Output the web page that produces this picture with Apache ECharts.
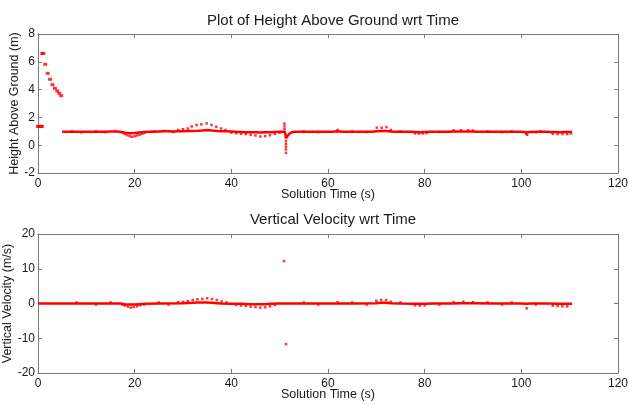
<!DOCTYPE html>
<html><head><meta charset="utf-8">
<script src="https://cdn.jsdelivr.net/npm/echarts@6/dist/echarts.min.js"></script>
<style>html,body{margin:0;padding:0;background:#fff}#c{width:629px;height:405px}</style>
</head><body><div id="c"></div>
<script>
// ---------- data ----------
const xTicks = [0, 20, 40, 60, 80, 100, 120];
const heightTicks = [-2, 0, 2, 4, 6, 8];
const velTicks = [-20, -10, 0, 10, 20];

// initial descent points (t, h)
const heightStartT = [0, 0.2, 0.4, 0.6, 0.8, 0.9, 1.1, 1.5, 2.0, 2.5, 3.0, 3.5, 4.0, 4.4, 4.8];
const heightStartV = [1.35, 1.35, 1.35, 1.35, 1.35, 6.6, 6.6, 5.82, 5.17, 4.74, 4.35, 4.09, 3.9, 3.73, 3.56];

// main height trace
const heightLineT = [5,6,7,8,9,10,11,12,13,14,15,16,17,18,19,20,21,22,23,24,25,26,27,28,29,30,31,32,33,34,35,36,37,38,39,40,41,42,43,44,45,46,47,48,49,50,51.1,51.3,51.6,52,52.5,53,54,55,56,57,58,59,60,61,62,63,64,65,66,67,68,69,70,71,72,73,74,75,76,77,78,79,80,81,82,83,84,85,86,87,88,89,90,91,92,93,94,95,96,97,98,99,100,101,102,103,104,105,106,107,108,109,110,110.5];
const heightLineV = [0.97,0.97,0.96,0.97,0.96,0.97,0.97,0.96,0.97,0.97,0.98,0.99,0.97,0.9,0.86,0.88,0.92,0.95,0.96,0.97,0.99,1.0,1.0,0.99,1.0,1.01,1.02,1.03,1.04,1.06,1.1,1.06,1.03,1.01,1.0,0.98,0.96,0.95,0.94,0.94,0.93,0.92,0.93,0.94,0.95,0.96,0.97,0.5,0.65,0.82,0.93,0.96,0.97,0.97,0.97,0.97,0.96,0.97,0.97,0.97,1.0,0.97,0.97,0.97,0.97,0.96,0.97,0.97,1.0,1.02,1.02,0.99,0.97,0.97,0.97,0.96,0.95,0.94,0.95,0.96,0.97,0.96,0.97,0.97,0.98,0.99,0.99,0.99,0.98,0.97,0.97,0.97,0.97,0.97,0.96,0.97,0.97,0.97,0.97,0.93,0.95,0.96,0.97,0.97,0.95,0.95,0.94,0.95,0.95,0.96];

// scattered height samples
const heightDotsT = [17.5,18,18.5,19,19.5,20,20.5,21,21.5,22, 29,30,31,31.8,32.8,33.8,34.9,35.9,36.9,37.9,38.8, 40,41,42,43,44,45,46,47,48,49,50, 51,51,51,51.3,51.3,51.3,51.3,51.3, 62,70.1,71.1,72.1,73, 78,78.8,79.6,80.4, 86,87.5,89,90, 101,101.2, 106.5,107.5,108.5,109.5,110.3, 7,9,12,14,16,24,26,28,55,58,65,68,75,83,93,96,98,103,104];
const heightDotsV = [0.9,0.8,0.72,0.65,0.6,0.65,0.7,0.75,0.82,0.88, 1.1,1.15,1.2,1.35,1.45,1.5,1.57,1.45,1.33,1.2,1.1, 0.9,0.86,0.83,0.8,0.75,0.7,0.62,0.65,0.72,0.82,0.9, 1.55,1.35,1.15,0.3,0.1,-0.1,-0.3,-0.55, 1.1,1.26,1.26,1.3,1.1, 0.85,0.83,0.85,0.87, 1.07,1.08,1.08,1.05, 0.82,0.75, 0.82,0.8,0.8,0.8,0.85, 1.0,0.93,1.0,0.94,1.02,1.0,1.03,0.95,1.0,0.94,1.0,0.95,1.0,0.95,1.0,0.94,1.0,0.93,1.0];

// main velocity trace
const velLineT = [0,5,10,15,17,18,19,20,21,22,25,30,32,33,34,35,36,37,38,40,42,44,45,46,47,48,50,51,52,55,60,65,70,71,72,73,75,78,79,80,82,85,88,90,95,100,101,102,105,108,110,110.5];
const velLineV = [0,0,0,0,0,-0.2,-0.3,-0.3,-0.2,-0.1,0,0.1,0.2,0.3,0.3,0.3,0.2,0.1,0,-0.1,-0.1,-0.2,-0.2,-0.2,-0.2,-0.1,0,0,0,0,0,0,0.1,0.2,0.2,0.1,0,-0.1,-0.1,-0.1,0,0,0.1,0.1,0,0,-0.1,0,0,-0.1,-0.1,-0.1];

// scattered velocity samples
const velDotsT = [17.5,18,18.6,19.2,19.8,20.5,21.2,22, 29,30,31,32,33,34,35,36,37,38,39, 41,42,43,44,45,46,47,48,49, 50.9,51.3, 70,71,72,73, 78,79,80, 86,88,90, 101.1, 106.5,107.5,108.5,109.5, 8,12,15,25,27,55,58,62,65,68,75,83,93,96,98,103];
const velDotsV = [-0.3,-0.6,-0.9,-1.2,-1.0,-0.8,-0.5,-0.3, 0.4,0.5,0.7,1.0,1.2,1.3,1.5,1.3,1.0,0.6,0.3, -0.4,-0.6,-0.7,-0.9,-1.0,-1.2,-1.1,-0.8,-0.4, 12.2,-11.7, 0.8,1.0,1.0,0.5, -0.5,-0.6,-0.5, 0.4,0.5,0.4, -1.4, -0.6,-0.7,-0.8,-0.8, 0.3,-0.3,0.3,0.3,-0.3,0.3,-0.3,0.4,0.3,-0.3,0.3,-0.3,0.3,-0.3,0.3,-0.3];

// ---------- chart ----------
const zip = (a, b) => a.map((t, i) => [t, b[i]]);
const RED = '#ff0000';
const AX = '#7a7a7a';
const TXT = '#1a1a1a';
const FONT = 'Liberation Sans, Arial, sans-serif';

function xAxes(gi) {
  const base = {
    type: 'value', gridIndex: gi, min: xTicks[0], max: xTicks[xTicks.length - 1],
    interval: xTicks[1] - xTicks[0], splitLine: { show: false },
    axisLine: { show: true, onZero: false, lineStyle: { color: AX, width: 1 } },
    axisTick: { show: true, inside: true, length: 4, lineStyle: { color: AX } }
  };
  return [
    Object.assign({}, base, {
      position: 'bottom', name: 'Solution Time (s)', nameLocation: 'middle', nameGap: 15,
      nameMoveOverlap: false,
      nameTextStyle: { color: TXT, fontSize: 12.5, fontFamily: FONT },
      axisLabel: { color: TXT, fontSize: 12, fontFamily: FONT, margin: 5 }
    }),
    Object.assign({}, base, { position: 'top', axisLabel: { show: false } })
  ];
}
function yAxes(gi, ticks, name, gap) {
  const base = {
    type: 'value', gridIndex: gi, min: ticks[0], max: ticks[ticks.length - 1],
    interval: ticks[1] - ticks[0], splitLine: { show: false },
    axisLine: { show: true, onZero: false, lineStyle: { color: AX, width: 1 } },
    axisTick: { show: true, inside: true, length: 4, lineStyle: { color: AX } }
  };
  return [
    Object.assign({}, base, {
      position: 'left', name: name, nameLocation: 'middle', nameGap: gap,
      nameMoveOverlap: false,
      nameTextStyle: { color: TXT, fontSize: 12.5, fontFamily: FONT },
      axisLabel: { color: TXT, fontSize: 12, fontFamily: FONT, margin: 3 }
    }),
    Object.assign({}, base, { position: 'right', axisLabel: { show: false } })
  ];
}

const chart = echarts.init(document.getElementById('c'), null, { renderer: 'canvas' });
const xs = xAxes(0).concat(xAxes(1));
const ys = yAxes(0, heightTicks, 'Height Above Ground (m)', 17).concat(yAxes(1, velTicks, 'Vertical Velocity (m/s)', 24));
chart.setOption({
  animation: false,
  backgroundColor: '#fff',
  title: [
    { text: 'Plot of Height Above Ground wrt Time', left: 328, top: 8, textAlign: 'center',
      textStyle: { fontSize: 15, fontWeight: 'normal', color: TXT, fontFamily: FONT } },
    { text: 'Vertical Velocity wrt Time', left: 328, top: 207, textAlign: 'center',
      textStyle: { fontSize: 15, fontWeight: 'normal', color: TXT, fontFamily: FONT } }
  ],
  grid: [
    { left: 38, right: 11, top: 34, height: 139, containLabel: false, outerBoundsMode: 'none' },
    { left: 38, right: 11, top: 234, height: 139, containLabel: false, outerBoundsMode: 'none' }
  ],
  xAxis: xs,
  yAxis: ys,
  series: [
    { type: 'scatter', xAxisIndex: 0, yAxisIndex: 0, data: zip(heightStartT, heightStartV),
      symbol: 'rect', symbolSize: [4, 3], itemStyle: { color: RED } },
    { type: 'line', xAxisIndex: 0, yAxisIndex: 0, data: zip(heightLineT, heightLineV),
      showSymbol: false, lineStyle: { color: RED, width: 2.5 } },
    { type: 'scatter', xAxisIndex: 0, yAxisIndex: 0, data: zip(heightDotsT, heightDotsV),
      symbol: 'rect', symbolSize: 2.5, itemStyle: { color: RED } },
    { type: 'line', xAxisIndex: 2, yAxisIndex: 2, data: zip(velLineT, velLineV),
      showSymbol: false, lineStyle: { color: RED, width: 2.5 } },
    { type: 'scatter', xAxisIndex: 2, yAxisIndex: 2, data: zip(velDotsT, velDotsV),
      symbol: 'rect', symbolSize: 2.5, itemStyle: { color: RED } }
  ]
});
</script>
</body></html>
